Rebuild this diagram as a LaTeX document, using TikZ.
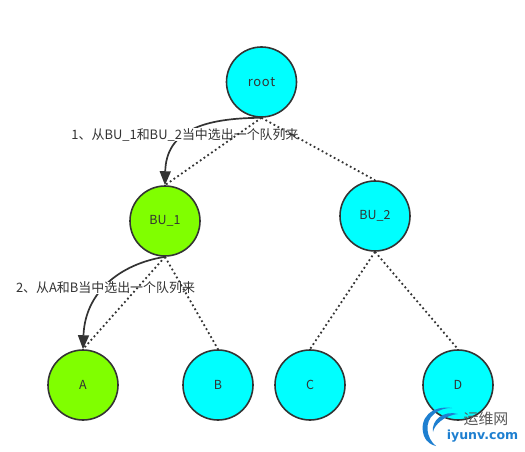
\documentclass[tikz,border=0pt]{standalone}
\usepackage{fontspec}
\setmainfont{DejaVu Sans}
\newfontfamily\cjkfont{Noto Sans CJK SC}
\usetikzlibrary{arrows.meta}
\definecolor{ink}{HTML}{333333}
\definecolor{cy}{HTML}{00FFFF}
\definecolor{gr}{HTML}{80FF00}
\definecolor{wblue}{HTML}{1E7FD0}
\tikzset{
  tree/.style={circle,draw=ink,line width=1.6pt,minimum size=70bp,inner sep=0pt,text=ink,font=\cjkfont\fontsize{12.5}{14}\selectfont},
  cyannode/.style={tree,fill=cy},
  greennode/.style={tree,fill=gr},
  dotline/.style={ink,line width=1.8pt,dash pattern=on 1.8pt off 2.8pt},
  pick/.style={ink,line width=1.7pt,-{Triangle[length=14pt,width=11pt]}},
  say/.style={fill=white,inner xsep=1pt,inner ysep=0pt,text=ink,font=\cjkfont\fontsize{13}{15}\selectfont},
}
\begin{document}
\begin{tikzpicture}[x=1bp,y=-1bp]
\useasboundingbox (0,0) rectangle (525,452);
\node[cyannode,font=\cjkfont\fontsize{13}{15}\selectfont] (root) at (261.5,82) {r\kern.6pt o\kern.6pt o\kern.6pt t};
\node[greennode] (bu1) at (165,221) {BU\_1};
\node[cyannode] (bu2) at (375,216) {BU\_2};
\node[greennode] (a) at (83,385) {A};
\node[cyannode] (b) at (218,385) {B};
\node[cyannode] (c) at (310,385) {C};
\node[cyannode] (d) at (458,385) {D};
\draw[pick] (root.south) .. controls (205,118) and (166,130) .. (bu1.north);
\draw[pick] (bu1.south) .. controls (120,264) and (85,292) .. (a.north);
\node[say] (l1) at (185,134.5) {1、从BU\_1和BU\_2当中选出一个队列来};
\node[say] (l2) at (105.5,288) {2、从A和B当中选出一个队列来};
\draw[dotline] (root.south) -- (bu1.north);
\draw[dotline] (root.south) -- (bu2.north);
\draw[dotline] (bu1.south) -- (a.north);
\draw[dotline] (bu1.south) -- (b.north);
\draw[dotline] (bu2.south) -- (c.north);
\draw[dotline] (bu2.south) -- (d.north);
% watermark
\fill[wblue] (452,408) .. controls (432,405) and (418,418) .. (424,436) .. controls (427,443) and (432,445) .. (436,446) .. controls (426,438) and (424,422) .. (434,414) .. controls (440,409) and (446,408) .. (452,408) -- cycle;
\fill[wblue] (458,414) .. controls (444,410) and (431,420) .. (433,432) .. controls (434,425) and (445,415) .. (458,414) -- cycle;
\node[inner sep=0pt,text=black!65,font=\cjkfont\fontsize{15}{17}\selectfont] (wm1) at (486,418.5) {运维网};
\node[inner sep=0pt,text=wblue,font=\bfseries\fontsize{12.6}{14}\selectfont] (wm2) at (482.5,436) {iyunv.com};
\end{tikzpicture}
\end{document}
